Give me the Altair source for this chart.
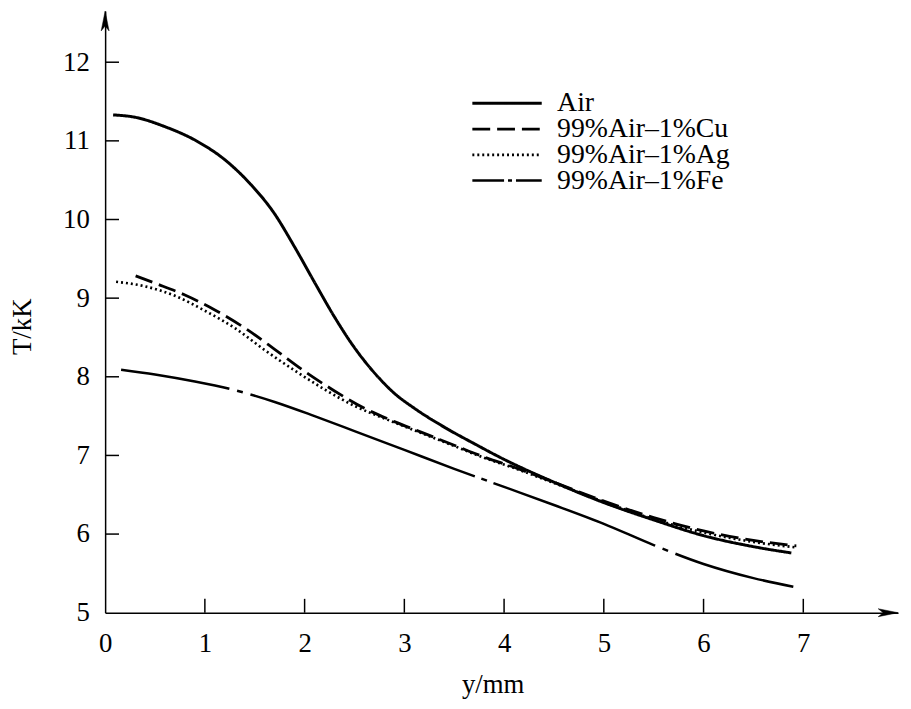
import altair as alt
import pandas as pd

SERIES = ["Air", "99%Air–1%Cu", "99%Air–1%Ag", "99%Air–1%Fe"]

air_x = [0.08, 0.3, 0.6, 0.9, 1.2, 1.45, 1.7, 1.9, 2.1, 2.3, 2.5, 2.7, 2.9, 3.1, 3.4, 3.7, 4.0, 4.5, 5.0, 5.5, 6.0, 6.5, 6.88]
air_t = [11.33, 11.30, 11.18, 11.01, 10.76, 10.46, 10.07, 9.65, 9.20, 8.76, 8.37, 8.05, 7.79, 7.60, 7.36, 7.15, 6.95, 6.66, 6.40, 6.18, 5.98, 5.84, 5.76]

cu_x = [0.25, 0.5, 0.8, 1.1, 1.4, 1.7, 2.0, 2.3, 2.6, 2.9, 3.2, 3.5, 3.8, 4.1, 4.5, 5.0, 5.5, 6.0, 6.5, 6.93]
cu_t = [9.31, 9.19, 9.04, 8.85, 8.62, 8.35, 8.07, 7.82, 7.60, 7.43, 7.28, 7.13, 6.98, 6.85, 6.66, 6.42, 6.21, 6.04, 5.92, 5.85]

ag_x = [0.1, 0.4, 0.7, 1.0, 1.3, 1.6, 1.9, 2.2, 2.5, 2.8, 3.1, 3.5, 3.8, 4.1, 4.5, 5.0, 5.5, 6.0, 6.5, 6.93]
ag_t = [9.21, 9.15, 9.03, 8.84, 8.62, 8.34, 8.08, 7.84, 7.63, 7.47, 7.32, 7.12, 6.97, 6.84, 6.65, 6.41, 6.19, 6.02, 5.90, 5.83]

fe_x = [0.16, 0.5, 0.9, 1.3, 1.7, 2.1, 2.5, 3.0, 3.5, 4.0, 4.5, 5.0, 5.5, 6.0, 6.5, 6.9]
fe_t = [8.09, 8.03, 7.94, 7.83, 7.68, 7.50, 7.31, 7.07, 6.83, 6.60, 6.37, 6.13, 5.86, 5.62, 5.44, 5.33]

X_TICKS = [0, 1, 2, 3, 4, 5, 6, 7]
Y_TICKS = [5, 6, 7, 8, 9, 10, 11, 12]
X_MIN, X_MAX = 0, 7.95
Y_MIN, Y_MAX = 5, 12.65

rows = []
for name, xs, ts in zip(SERIES, [air_x, cu_x, ag_x, fe_x], [air_t, cu_t, ag_t, fe_t]):
    for xv, tv in zip(xs, ts):
        rows.append({"series": name, "y": xv, "T": tv})
df = pd.DataFrame(rows)

FONT = "Liberation Serif"

x_scale = alt.Scale(domain=[X_MIN, X_MAX], nice=False, zero=False)
y_scale = alt.Scale(domain=[Y_MIN, Y_MAX], nice=False, zero=False)

x_enc = alt.X(
    "y:Q", scale=x_scale,
    axis=alt.Axis(
        values=X_TICKS, title="y/mm", grid=False, ticks=False,
        titleFont=FONT, titleFontSize=27, titleFontWeight="normal", titleColor="black",
        titleX=391, titleY=60, titleBaseline="top",
        labelFont=FONT, labelFontSize=27, labelColor="black", labelPadding=18,
        labelFlush=False, labelOverlap=False,
        domainColor="black", domainWidth=1.5,
    ),
)
y_enc = alt.Y(
    "T:Q", scale=y_scale,
    axis=alt.Axis(
        values=Y_TICKS, title="T/kK", grid=False, ticks=False,
        titleFont=FONT, titleFontSize=27, titleFontWeight="normal", titleColor="black",
        titleX=-75, titleY=318, titleBaseline="alphabetic", titleAlign="center",
        labelFont=FONT, labelFontSize=27, labelColor="black", labelPadding=16,
        labelFlush=False, labelOverlap=False,
        domainColor="black", domainWidth=1.5,
    ),
)

# first chunk of the Fe pattern ([32, 4, 4, 4]) only shows in the legend key
FE_DASH = [32, 4, 4, 4, 111, 8, 6, 8, 241, 7, 6, 7, 175, 8, 6, 8, 500]
DASHES = [[1, 0], [18, 7], [2, 3], FE_DASH]
LINE_DASH_OFFSET = 44

lines = alt.Chart(df).mark_line(
    interpolate="monotone", color="black", strokeCap="butt",
    strokeDashOffset=LINE_DASH_OFFSET,
).encode(
    x=x_enc,
    y=y_enc,
    strokeDash=alt.StrokeDash(
        "series:N",
        scale=alt.Scale(domain=SERIES, range=DASHES),
        legend=alt.Legend(
            title=None, orient="none", legendX=369, legendY=81,
            symbolType="stroke", symbolSize=4900, symbolStrokeWidth=2.5,
            symbolStrokeColor="black",
            labelFont=FONT, labelFontSize=28, labelColor="black", labelOffset=14,
            labelLimit=400, clipHeight=24, rowPadding=-6.5, padding=0,
        ),
    ),
    strokeWidth=alt.StrokeWidth(
        "series:N", scale=alt.Scale(domain=SERIES, range=[3, 2.5, 2.5, 2.5]), legend=None
    ),
)

# inward axis ticks
x_ticks = alt.Chart(pd.DataFrame({"y": X_TICKS[1:], "T": [Y_MIN] * (len(X_TICKS) - 1)})).mark_tick(
    orient="vertical", size=14, thickness=1.5, yOffset=-7, color="black", opacity=1
).encode(x=x_enc, y=y_enc)
y_ticks = alt.Chart(pd.DataFrame({"y": [X_MIN] * (len(Y_TICKS) - 1), "T": Y_TICKS[1:]})).mark_tick(
    orient="horizontal", size=14, thickness=1.5, xOffset=7, color="black", opacity=1
).encode(x=x_enc, y=y_enc)

arrow_right = alt.Chart(pd.DataFrame({"y": [X_MAX], "T": [Y_MIN]})).mark_point(
    shape="M 0 0 L -4 -0.8 L -3 0 L -4 0.8 Z", size=100, filled=True,
    fill="black", stroke="black", strokeWidth=0.5, opacity=1,
).encode(x=x_enc, y=y_enc)

arrow_up = alt.Chart(pd.DataFrame({"y": [X_MIN], "T": [Y_MAX]})).mark_point(
    shape="M 0 0 L -0.8 4 L 0 3 L 0.8 4 Z", size=100, filled=True,
    fill="black", stroke="black", strokeWidth=0.5, opacity=1,
).encode(x=x_enc, y=y_enc)

chart = alt.layer(lines, x_ticks, y_ticks, arrow_right, arrow_up).properties(
    width=800, height=607,
    autosize=alt.AutoSizeParams(type="none"),
    padding={"left": 98, "top": 0, "right": 5, "bottom": 92},
    background="white",
).configure_view(stroke=None)

chart.save("out.html", embed_options={"renderer": "svg", "actions": False})
